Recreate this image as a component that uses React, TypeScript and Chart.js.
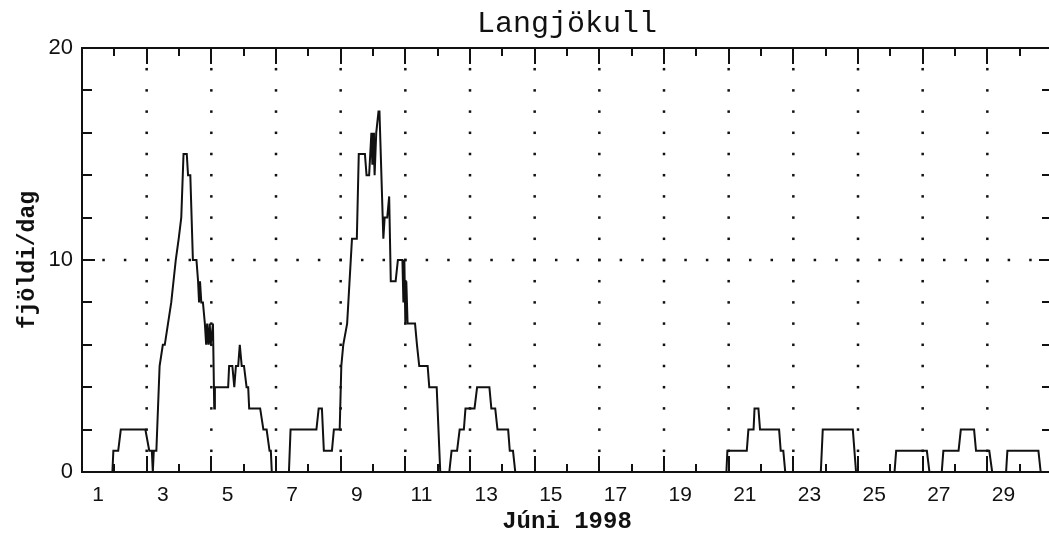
import { useEffect, useRef } from 'react';
import { Chart, registerables } from 'chart.js';

Chart.register(...registerables);

// Tími sem dagur í júní (1 = 1. júní kl. 00:00) og fjöldi á dag
const dagur = [
  1.0, 1.94, 1.97, 2.12, 2.2, 2.96, 3.08, 3.16, 3.19, 3.22, 3.3, 3.4, 3.5, 3.56, 3.76, 3.9,
  3.99, 4.07, 4.14, 4.24, 4.28, 4.35, 4.43, 4.54, 4.59, 4.62, 4.65, 4.69, 4.74, 4.8, 4.84,
  4.87, 4.91, 4.95, 4.98, 5.05, 5.09, 5.11, 5.52, 5.55, 5.65, 5.71, 5.76, 5.83, 5.88, 5.94,
  6.01, 6.09, 6.14, 6.17, 6.51, 6.61, 6.71, 6.8, 6.84, 6.87, 7.4, 7.45, 8.25, 8.32, 8.42,
  8.48, 8.73, 8.79, 8.97, 9.02, 9.08, 9.2, 9.35, 9.5, 9.56, 9.75, 9.8, 9.88, 9.95, 9.98,
  10.0, 10.03, 10.05, 10.1, 10.17, 10.2, 10.32, 10.36, 10.44, 10.5, 10.55, 10.7, 10.77,
  10.91, 10.94, 10.97, 11.0, 11.03, 11.07, 11.3, 11.36, 11.43, 11.69, 11.74, 11.97, 12.08,
  12.36, 12.43, 12.6, 12.68, 12.81, 12.86, 13.14, 13.22, 13.6, 13.66, 13.78, 13.85, 14.18,
  14.23, 14.33, 14.4, 20.93, 20.96, 21.56, 21.61, 21.77, 21.8, 21.92, 21.97, 22.56, 22.61,
  22.69, 22.75, 23.85, 23.91, 24.84, 24.94, 26.13, 26.18, 27.13, 27.21, 27.59, 27.64, 28.11,
  28.18, 28.59, 28.65, 29.06, 29.15, 29.58, 29.62, 30.58, 30.65, 31.0,
];
const fjoldi = [
  0, 0, 1, 1, 2, 2, 1, 1, 0, 1, 1, 5, 6, 6, 8, 10,
  11, 12, 15, 15, 14, 14, 10, 10, 9, 8, 9, 8, 8, 7, 6,
  7, 6, 7, 6, 7, 3, 4, 4, 5, 5, 4, 5, 5, 6, 5,
  5, 4, 4, 3, 3, 2, 2, 1, 1, 0, 0, 2, 2, 3, 3,
  1, 1, 2, 2, 5, 6, 7, 11, 11, 15, 15, 14, 14, 16, 14.5,
  16, 15, 14, 16, 17, 17, 11, 12, 12, 13, 9, 9, 10,
  10, 8, 10, 7, 9, 7, 7, 6, 5, 5, 4, 4, 0,
  0, 1, 1, 2, 2, 3, 3, 4, 4, 3, 3, 2, 2,
  1, 1, 0, 0, 1, 1, 2, 2, 3, 3, 2, 2, 1,
  1, 0, 0, 2, 2, 0, 0, 1, 1, 0, 0, 1, 1,
  2, 2, 1, 1, 0, 0, 1, 1, 0, 0,
];

// Merktir dagar á x-ás (merki í miðjum degi) og gildi á y-ás
const dagMerki = [1, 3, 5, 7, 9, 11, 13, 15, 17, 19, 21, 23, 25, 27, 29];
const yMerki = [0, 10, 20];
// Lóðréttar punktalínur við upphaf oddatöludaga
const grindDagar = [3, 5, 7, 9, 11, 13, 15, 17, 19, 21, 23, 25, 27, 29];

const LITUR = '#111';

// Rammi, inn á við vísandi strik og punktalínur
const rammi = {
  id: 'rammi',
  beforeDatasetsDraw(chart: any) {
    const { ctx, scales } = chart;
    const x = scales.x;
    const y = scales.y;
    const dot = 2.5;
    ctx.save();
    ctx.fillStyle = LITUR;
    for (const d of grindDagar) {
      const px = x.getPixelForValue(d);
      for (let v = 1; v < 20; v++) {
        const py = y.getPixelForValue(v);
        ctx.fillRect(px - dot / 2, py - dot / 2, dot, dot);
      }
    }
    const py10 = y.getPixelForValue(10);
    for (let k = 1; ; k++) {
      const d = 1 + (k * 2) / 3;
      if (d >= 31) break;
      const px = x.getPixelForValue(d);
      ctx.fillRect(px - dot / 2, py10 - dot / 2, dot, dot);
    }
    ctx.restore();
  },
  afterDatasetsDraw(chart: any) {
    const { ctx, chartArea, scales } = chart;
    const { left, right, top, bottom } = chartArea;
    const x = scales.x;
    const y = scales.y;
    ctx.save();
    ctx.strokeStyle = LITUR;
    ctx.lineWidth = 2;
    ctx.beginPath();
    for (let d = 2; d <= 30; d++) {
      const px = Math.round(x.getPixelForValue(d));
      const len = d % 2 === 1 ? 16 : 8;
      ctx.moveTo(px, bottom);
      ctx.lineTo(px, bottom - len);
      ctx.moveTo(px, top);
      ctx.lineTo(px, top + len);
    }
    for (let v = 2; v < 20; v += 2) {
      const py = Math.round(y.getPixelForValue(v));
      const len = v === 10 ? 13 : 10;
      ctx.moveTo(left, py);
      ctx.lineTo(left + len, py);
      ctx.moveTo(right, py);
      ctx.lineTo(right - len, py);
    }
    ctx.stroke();
    ctx.strokeRect(left, top, right - left, bottom - top);
    ctx.restore();
  },
};

export default function App() {
  const ref = useRef<HTMLCanvasElement>(null);

  useEffect(() => {
    if (!ref.current) return;
    const chart = new Chart(ref.current, {
      type: 'line',
      data: {
        datasets: [
          {
            data: dagur.map((d, i) => ({ x: d, y: fjoldi[i] })),
            borderColor: LITUR,
            borderWidth: 2,
            pointRadius: 0,
            tension: 0,
            fill: false,
          },
        ],
      },
      options: {
        responsive: false,
        animation: false,
        devicePixelRatio: 1,
        layout: { padding: { left: 0, right: 10, top: 0, bottom: 0 } },
        plugins: {
          legend: { display: false },
          tooltip: { enabled: false },
          title: {
            display: true,
            text: 'Langjökull',
            fullSize: false,
            color: LITUR,
            font: { family: "'Liberation Mono', monospace", size: 30, weight: 'normal' },
            padding: { top: 6, bottom: 6 },
          },
        },
        scales: {
          x: {
            type: 'linear',
            min: 1,
            max: 31,
            afterBuildTicks: (s: any) => {
              s.ticks = dagMerki.map((d) => ({ value: d + 0.5 }));
            },
            afterFit: (s: any) => {
              s.height = 65;
            },
            ticks: {
              autoSkip: false,
              maxRotation: 0,
              padding: 11,
              color: LITUR,
              font: { family: "'Liberation Sans', sans-serif", size: 21 },
              callback: (v: any) => String(Math.floor(Number(v))),
            },
            grid: { display: false, drawTicks: false },
            border: { display: false },
            title: {
              display: true,
              text: 'Júni 1998',
              color: LITUR,
              font: { family: "'Liberation Mono', monospace", size: 24, weight: 'bold' },
              padding: { top: 0, bottom: 1 },
            },
          },
          y: {
            min: 0,
            max: 20,
            afterBuildTicks: (s: any) => {
              s.ticks = yMerki.map((v) => ({ value: v }));
            },
            afterFit: (s: any) => {
              s.width = 82;
            },
            ticks: {
              padding: 9,
              color: LITUR,
              font: { family: "'Liberation Sans', sans-serif", size: 22 },
            },
            grid: { display: false, drawTicks: false },
            border: { display: false },
            title: {
              display: true,
              text: 'fjöldi/dag',
              color: LITUR,
              font: { family: "'Liberation Mono', monospace", size: 23, weight: 'bold' },
              padding: { top: 14, bottom: 0 },
            },
          },
        },
      },
      plugins: [rammi],
    } as any);
    return () => chart.destroy();
  }, []);

  return (
    <div
      style={{
        position: 'fixed',
        left: 0,
        top: 0,
        width: 1049,
        height: 537,
        overflow: 'hidden',
        background: '#fff',
      }}
    >
      <canvas ref={ref} width={1062} height={537} style={{ display: 'block' }} />
    </div>
  );
}
